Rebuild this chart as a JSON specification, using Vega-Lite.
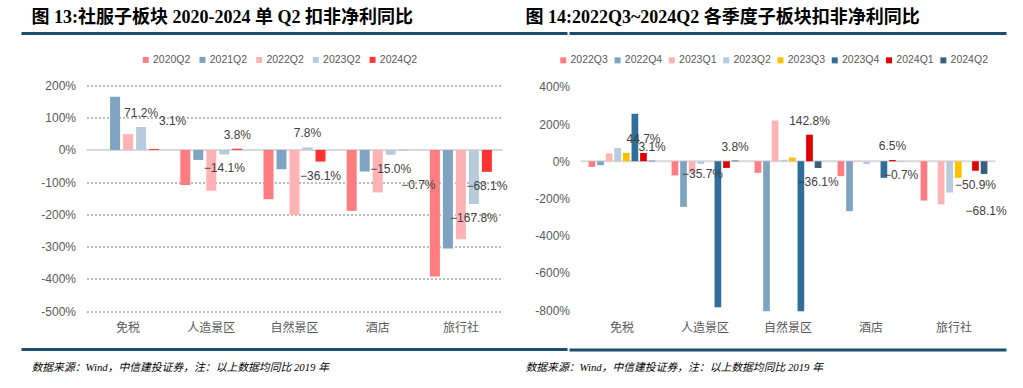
{
  "$schema": "https://vega.github.io/schema/vega-lite/v6.json",
  "background": "white",
  "autosize": {"type": "pad"},
  "padding": {"left": 19.5, "top": 8.5, "right": 0, "bottom": 0},
  "config": {
    "view": {"stroke": null},
    "font": "Liberation Sans",
    "axis": {"labelFont": "Liberation Sans", "labelColor": "#595959", "labelFontSize": 12}
  },
  "datasets": {
    "q2": [
      {"cat": "免税", "s": "2020Q2", "v": null},
      {"cat": "免税", "s": "2021Q2", "v": 165},
      {"cat": "免税", "s": "2022Q2", "v": 49},
      {"cat": "免税", "s": "2023Q2", "v": 71.2},
      {"cat": "免税", "s": "2024Q2", "v": 3.1},
      {"cat": "人造景区", "s": "2020Q2", "v": -109},
      {"cat": "人造景区", "s": "2021Q2", "v": -31},
      {"cat": "人造景区", "s": "2022Q2", "v": -127},
      {"cat": "人造景区", "s": "2023Q2", "v": -14.1},
      {"cat": "人造景区", "s": "2024Q2", "v": 3.8},
      {"cat": "自然景区", "s": "2020Q2", "v": -153},
      {"cat": "自然景区", "s": "2021Q2", "v": -60},
      {"cat": "自然景区", "s": "2022Q2", "v": -202},
      {"cat": "自然景区", "s": "2023Q2", "v": 7.8},
      {"cat": "自然景区", "s": "2024Q2", "v": -36.1},
      {"cat": "酒店", "s": "2020Q2", "v": -189},
      {"cat": "酒店", "s": "2021Q2", "v": -67},
      {"cat": "酒店", "s": "2022Q2", "v": -132},
      {"cat": "酒店", "s": "2023Q2", "v": -15.0},
      {"cat": "酒店", "s": "2024Q2", "v": -0.7},
      {"cat": "旅行社", "s": "2020Q2", "v": -393},
      {"cat": "旅行社", "s": "2021Q2", "v": -306},
      {"cat": "旅行社", "s": "2022Q2", "v": -277},
      {"cat": "旅行社", "s": "2023Q2", "v": -167.8},
      {"cat": "旅行社", "s": "2024Q2", "v": -68.1}
    ],
    "qs": [
      {"cat": "免税", "s": "2022Q3", "v": -30},
      {"cat": "免税", "s": "2022Q4", "v": -21},
      {"cat": "免税", "s": "2023Q1", "v": 42},
      {"cat": "免税", "s": "2023Q2", "v": 71.2},
      {"cat": "免税", "s": "2023Q3", "v": 45},
      {"cat": "免税", "s": "2023Q4", "v": 255},
      {"cat": "免税", "s": "2024Q1", "v": 44.7},
      {"cat": "免税", "s": "2024Q2", "v": 3.1},
      {"cat": "人造景区", "s": "2022Q3", "v": -76},
      {"cat": "人造景区", "s": "2022Q4", "v": -245},
      {"cat": "人造景区", "s": "2023Q1", "v": -65},
      {"cat": "人造景区", "s": "2023Q2", "v": -14.1},
      {"cat": "人造景区", "s": "2023Q3", "v": null},
      {"cat": "人造景区", "s": "2023Q4", "v": -784},
      {"cat": "人造景区", "s": "2024Q1", "v": -35.7},
      {"cat": "人造景区", "s": "2024Q2", "v": 3.8},
      {"cat": "自然景区", "s": "2022Q3", "v": -62},
      {"cat": "自然景区", "s": "2022Q4", "v": -805},
      {"cat": "自然景区", "s": "2023Q1", "v": 219},
      {"cat": "自然景区", "s": "2023Q2", "v": 7.8},
      {"cat": "自然景区", "s": "2023Q3", "v": 20},
      {"cat": "自然景区", "s": "2023Q4", "v": -805},
      {"cat": "自然景区", "s": "2024Q1", "v": 142.8},
      {"cat": "自然景区", "s": "2024Q2", "v": -36.1},
      {"cat": "酒店", "s": "2022Q3", "v": -80},
      {"cat": "酒店", "s": "2022Q4", "v": -268},
      {"cat": "酒店", "s": "2023Q1", "v": 2},
      {"cat": "酒店", "s": "2023Q2", "v": -15.0},
      {"cat": "酒店", "s": "2023Q3", "v": null},
      {"cat": "酒店", "s": "2023Q4", "v": -89},
      {"cat": "酒店", "s": "2024Q1", "v": 6.5},
      {"cat": "酒店", "s": "2024Q2", "v": -0.7},
      {"cat": "旅行社", "s": "2022Q3", "v": -211},
      {"cat": "旅行社", "s": "2022Q4", "v": null},
      {"cat": "旅行社", "s": "2023Q1", "v": -232},
      {"cat": "旅行社", "s": "2023Q2", "v": -167.8},
      {"cat": "旅行社", "s": "2023Q3", "v": -89},
      {"cat": "旅行社", "s": "2023Q4", "v": null},
      {"cat": "旅行社", "s": "2024Q1", "v": -50.9},
      {"cat": "旅行社", "s": "2024Q2", "v": -68.1}
    ]
  },
  "hconcat": [
    {
      "vconcat": [
        {
          "width": 546, "height": 14,
          "data": {"values": [{"v": 1}]},
          "title": {"text": "图 13:社服子板块 2020-2024 单 Q2 扣非净利同比", "anchor": "start", "dx": 11.5, "offset": 5, "fontSize": 18, "fontWeight": "bold", "font": "Liberation Serif, Noto Sans CJK SC", "color": "#000000"},
          "mark": {"type": "rule", "color": "#1D4E6F", "strokeWidth": 3},
          "encoding": {"y": {"field": "v", "type": "quantitative", "scale": {"domain": [0, 1]}, "axis": null}}
        },
        {
          "width": 416, "height": 225.5,
          "data": {"name": "q2"},
          "encoding": {
            "y": {"field": "v", "type": "quantitative", "scale": {"domain": [-500, 200], "nice": false, "zero": false},
                  "axis": {"title": null, "values": [-500, -400, -300, -200, -100, 0, 100, 200], "labelExpr": "datum.value + '%'", "grid": true, "gridDash": [2, 2], "gridColor": "#555555", "gridWidth": 0.8, "domain": false, "ticks": false, "labelPadding": 11}}
          },
          "layer": [
            {
              "data": {"values": [{"v": 0}]},
              "mark": {"type": "rule", "color": "#D9D9D9", "strokeWidth": 2}
            },
            {
              "mark": {"type": "bar"},
              "encoding": {
                "x": {"field": "cat", "type": "nominal", "sort": ["免税", "人造景区", "自然景区", "酒店", "旅行社"], "scale": {"paddingInner": 0, "paddingOuter": 0}, "axis": {"title": null, "labelAngle": 0, "domain": false, "ticks": false, "labelPadding": 11.5, "labelFont": "Noto Sans CJK SC", "grid": false}},
                "xOffset": {"field": "s", "type": "nominal", "scale": {"domain": ["2020Q2", "2021Q2", "2022Q2", "2023Q2", "2024Q2"], "paddingInner": 0.23, "paddingOuter": 0.815}},
                "color": {"field": "s", "type": "nominal", "scale": {"domain": ["2020Q2", "2021Q2", "2022Q2", "2023Q2", "2024Q2"], "range": ["#FF7C80", "#7FA3C0", "#FFB3B5", "#B7CBDC", "#FF3333"]},
                          "legend": {"orient": "none", "legendX": 54, "legendY": -31, "direction": "horizontal", "title": null, "symbolType": "square", "symbolSize": 36, "symbolStrokeWidth": 0, "labelFontSize": 10.5, "labelColor": "#595959", "labelOffset": 2, "columnPadding": 6.7, "padding": 0}}
              }
            },
            {
              "transform": [
                {"filter": "(datum.s == '2023Q2' || datum.s == '2024Q2') && datum.v > 0 && !(datum.cat == '免税' && datum.s == '2024Q2')"},
                {"calculate": "format(datum.v, '.1f') + '%'", "as": "lbl"}
              ],
              "mark": {"type": "text", "baseline": "middle", "dy": -14, "fontSize": 12, "color": "#404040"},
              "encoding": {
                "x": {"field": "cat", "type": "nominal", "sort": ["免税", "人造景区", "自然景区", "酒店", "旅行社"]},
                "xOffset": {"field": "s", "type": "nominal"},
                "text": {"field": "lbl"}
              }
            },
            {
              "transform": [
                {"filter": "(datum.s == '2023Q2' || datum.s == '2024Q2') && datum.v < 0 && !(datum.cat == '酒店' && datum.s == '2024Q2')"},
                {"calculate": "format(datum.v, '.1f') + '%'", "as": "lbl"}
              ],
              "mark": {"type": "text", "baseline": "middle", "dy": 14, "fontSize": 12, "color": "#404040"},
              "encoding": {
                "x": {"field": "cat", "type": "nominal", "sort": ["免税", "人造景区", "自然景区", "酒店", "旅行社"]},
                "xOffset": {"field": "s", "type": "nominal"},
                "text": {"field": "lbl"}
              }
            },
            {
              "transform": [
                {"filter": "datum.cat == '免税' && datum.s == '2024Q2'"},
                {"calculate": "format(datum.v, '.1f') + '%'", "as": "lbl"}
              ],
              "mark": {"type": "text", "baseline": "middle", "dx": 18.5, "dy": -28, "fontSize": 12, "color": "#404040"},
              "encoding": {
                "x": {"field": "cat", "type": "nominal", "sort": ["免税", "人造景区", "自然景区", "酒店", "旅行社"]},
                "xOffset": {"field": "s", "type": "nominal"},
                "text": {"field": "lbl"}
              }
            },
            {
              "transform": [
                {"filter": "datum.cat == '酒店' && datum.s == '2024Q2'"},
                {"calculate": "format(datum.v, '.1f') + '%'", "as": "lbl"}
              ],
              "mark": {"type": "text", "baseline": "middle", "dx": 14.6, "dy": 34.7, "fontSize": 12, "color": "#404040"},
              "encoding": {
                "x": {"field": "cat", "type": "nominal", "sort": ["免税", "人造景区", "自然景区", "酒店", "旅行社"]},
                "xOffset": {"field": "s", "type": "nominal"},
                "text": {"field": "lbl"}
              }
            }
          ]
        },
        {
          "width": 546, "height": 1,
          "data": {"values": [{"v": 1}]},
          "title": {"text": "数据来源：Wind，中信建投证券，注：以上数据均同比 2019 年", "orient": "bottom", "anchor": "start", "dx": 11.5, "offset": 10.5, "fontSize": 10.8, "fontWeight": "normal", "fontStyle": "italic", "font": "Liberation Serif, Noto Sans CJK SC", "color": "#000000"},
          "mark": {"type": "rule", "color": "#1D4E6F", "strokeWidth": 3},
          "encoding": {"y": {"field": "v", "type": "quantitative", "scale": {"domain": [0, 1]}, "axis": null}}
        }
      ],
      "spacing": 38,
      "center": true,
      "bounds": "flush",
      "resolve": {"scale": {"color": "independent", "xOffset": "independent"}, "legend": {"color": "independent"}}
    },
    {
      "vconcat": [
        {
          "width": 437, "height": 13.5,
          "data": {"values": [{"v": 1}]},
          "title": {"text": "图 14:2022Q3~2024Q2 各季度子板块扣非净利同比", "anchor": "start", "dx": -42.5, "offset": 5, "fontSize": 18, "fontWeight": "bold", "font": "Liberation Serif, Noto Sans CJK SC", "color": "#000000"},
          "mark": {"type": "rule", "color": "#1D4E6F", "strokeWidth": 3},
          "encoding": {"y": {"field": "v", "type": "quantitative", "scale": {"domain": [0, 1]}, "axis": null}}
        },
        {
          "width": 415, "height": 223.4,
          "data": {"name": "qs"},
          "encoding": {
            "y": {"field": "v", "type": "quantitative", "scale": {"domain": [-800, 400], "nice": false, "zero": false},
                  "axis": {"title": null, "values": [-800, -600, -400, -200, 0, 200, 400], "labelExpr": "datum.value + '%'", "grid": false, "domain": false, "ticks": false, "labelPadding": 11}}
          },
          "layer": [
            {
              "data": {"values": [{"v": 0}]},
              "mark": {"type": "rule", "color": "#D9D9D9", "strokeWidth": 2}
            },
            {
              "mark": {"type": "bar"},
              "encoding": {
                "x": {"field": "cat", "type": "nominal", "sort": ["免税", "人造景区", "自然景区", "酒店", "旅行社"], "scale": {"paddingInner": 0, "paddingOuter": 0}, "axis": {"title": null, "labelAngle": 0, "domain": false, "ticks": false, "labelPadding": 12.5, "labelFont": "Noto Sans CJK SC", "grid": false}},
                "xOffset": {"field": "s", "type": "nominal", "scale": {"domain": ["2022Q3", "2022Q4", "2023Q1", "2023Q2", "2023Q3", "2023Q4", "2024Q1", "2024Q2"], "paddingInner": 0.22, "paddingOuter": 0.94}},
                "color": {"field": "s", "type": "nominal", "scale": {"domain": ["2022Q3", "2022Q4", "2023Q1", "2023Q2", "2023Q3", "2023Q4", "2024Q1", "2024Q2"], "range": ["#FF7C80", "#7FA3C0", "#FFB3B5", "#B7CBDC", "#FFC000", "#2F6E99", "#E00000", "#3B5E7E"]},
                          "legend": {"orient": "none", "legendX": -22.5, "legendY": -31.8, "direction": "horizontal", "title": null, "symbolType": "square", "symbolSize": 36, "symbolStrokeWidth": 0, "labelFontSize": 10.5, "labelColor": "#595959", "labelOffset": 2, "columnPadding": 4.3, "padding": 0}}
              }
            },
            {
              "transform": [
                {"filter": "(datum.s == '2024Q1' || datum.s == '2024Q2') && datum.v > 0"},
                {"calculate": "format(datum.v, '.1f') + '%'", "as": "lbl"}
              ],
              "mark": {"type": "text", "baseline": "middle", "dy": -14, "fontSize": 12, "color": "#404040"},
              "encoding": {
                "x": {"field": "cat", "type": "nominal", "sort": ["免税", "人造景区", "自然景区", "酒店", "旅行社"]},
                "xOffset": {"field": "s", "type": "nominal"},
                "text": {"field": "lbl"}
              }
            },
            {
              "transform": [
                {"filter": "(datum.s == '2024Q1' || datum.s == '2024Q2') && datum.v < 0 && !(datum.cat == '人造景区' && datum.s == '2024Q1') && !(datum.cat == '旅行社' && datum.s == '2024Q2')"},
                {"calculate": "format(datum.v, '.1f') + '%'", "as": "lbl"}
              ],
              "mark": {"type": "text", "baseline": "middle", "dy": 14, "fontSize": 12, "color": "#404040"},
              "encoding": {
                "x": {"field": "cat", "type": "nominal", "sort": ["免税", "人造景区", "自然景区", "酒店", "旅行社"]},
                "xOffset": {"field": "s", "type": "nominal"},
                "text": {"field": "lbl"}
              }
            },
            {
              "transform": [
                {"filter": "datum.cat == '人造景区' && datum.s == '2024Q1'"},
                {"calculate": "format(datum.v, '.1f') + '%'", "as": "lbl"}
              ],
              "mark": {"type": "text", "baseline": "middle", "dx": -24, "dy": 5.7, "fontSize": 12, "color": "#404040"},
              "encoding": {
                "x": {"field": "cat", "type": "nominal", "sort": ["免税", "人造景区", "自然景区", "酒店", "旅行社"]},
                "xOffset": {"field": "s", "type": "nominal"},
                "text": {"field": "lbl"}
              }
            },
            {
              "transform": [
                {"filter": "datum.cat == '旅行社' && datum.s == '2024Q2'"},
                {"calculate": "format(datum.v, '.1f') + '%'", "as": "lbl"}
              ],
              "mark": {"type": "text", "baseline": "middle", "dx": 2, "dy": 37, "fontSize": 12, "color": "#404040"},
              "encoding": {
                "x": {"field": "cat", "type": "nominal", "sort": ["免税", "人造景区", "自然景区", "酒店", "旅行社"]},
                "xOffset": {"field": "s", "type": "nominal"},
                "text": {"field": "lbl"}
              }
            }
          ]
        },
        {
          "width": 437, "height": 1,
          "data": {"values": [{"v": 1}]},
          "title": {"text": "数据来源：Wind，中信建投证券，注：以上数据均同比 2019 年", "orient": "bottom", "anchor": "start", "dx": -42.5, "offset": 10.5, "fontSize": 10.8, "fontWeight": "normal", "fontStyle": "italic", "font": "Liberation Serif, Noto Sans CJK SC", "color": "#000000"},
          "mark": {"type": "rule", "color": "#1D4E6F", "strokeWidth": 3},
          "encoding": {"y": {"field": "v", "type": "quantitative", "scale": {"domain": [0, 1]}, "axis": null}}
        }
      ],
      "spacing": 39.3,
      "center": true,
      "bounds": "flush",
      "resolve": {"scale": {"color": "independent", "xOffset": "independent"}, "legend": {"color": "independent"}}
    }
  ],
  "spacing": -45.5,
  "bounds": "full",
  "resolve": {"scale": {"color": "independent", "xOffset": "independent"}, "legend": {"color": "independent"}}
}
